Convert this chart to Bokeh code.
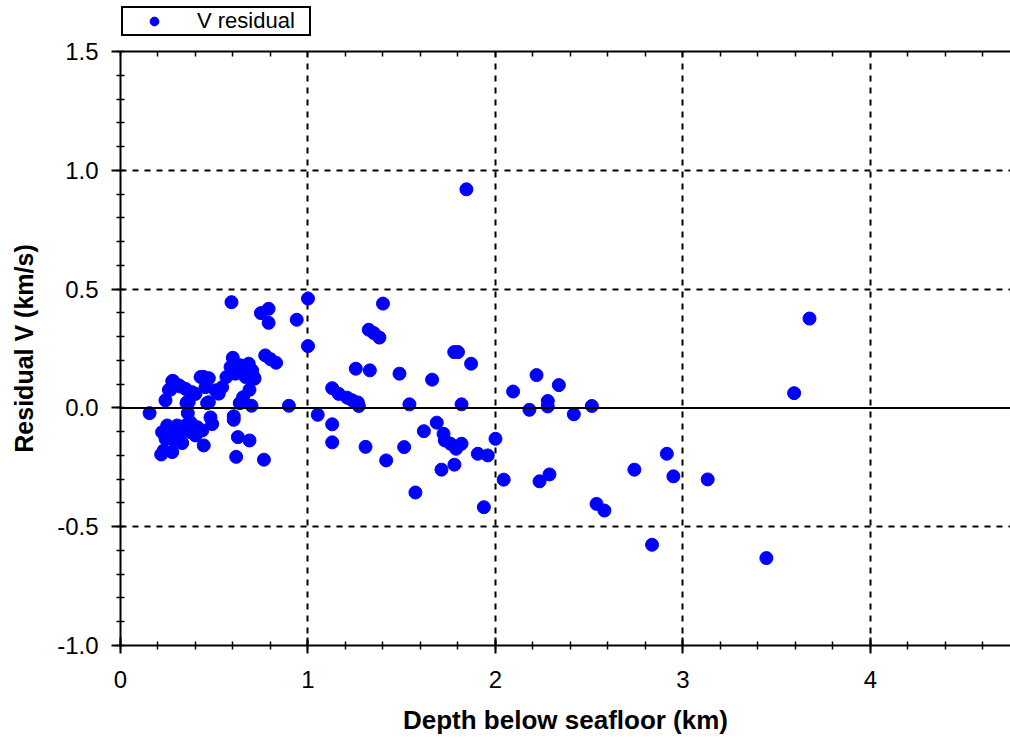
from bokeh.plotting import figure
from bokeh.layouts import column
from bokeh.models import (LinearAxis, Range1d, Span, Legend, LegendItem,
                          FixedTicker, ColumnDataSource, Grid,
                          CustomJSTickFormatter)
from bokeh.embed import file_html
from bokeh.resources import INLINE

# Depth below seafloor (km) and velocity residual (km/s) for each sample
depth_km = [
    0.155, 0.222, 0.231, 0.240, 0.240, 0.249, 0.258, 0.267, 0.276, 0.276,
    0.276, 0.281, 0.284, 0.302, 0.311, 0.320, 0.329, 0.329, 0.347, 0.347,
    0.352, 0.356, 0.359, 0.364, 0.373, 0.373, 0.382, 0.400, 0.400, 0.409,
    0.427, 0.436, 0.444, 0.444, 0.453, 0.462, 0.471, 0.471, 0.480, 0.489,
    0.507, 0.524, 0.542, 0.565, 0.587, 0.592, 0.599, 0.601, 0.604, 0.604,
    0.613, 0.617, 0.622, 0.626, 0.636, 0.640, 0.654, 0.667, 0.684, 0.688,
    0.688, 0.699, 0.702, 0.711, 0.715, 0.749, 0.765, 0.772, 0.790, 0.790,
    0.800, 0.830, 0.898, 0.940, 1.000, 1.000, 0.217,
    1.052, 1.129, 1.129, 1.129, 1.164, 1.209, 1.236, 1.255, 1.266, 1.271,
    1.307, 1.324, 1.330, 1.351, 1.381, 1.400, 1.417, 1.488, 1.513, 1.541,
    1.573, 1.618, 1.662, 1.687, 1.712, 1.723, 1.730, 1.760, 1.780, 1.781,
    1.790, 1.800, 1.819, 1.819, 1.845, 1.870, 1.906, 1.938, 1.959, 2.000,
    2.044, 2.094, 2.181, 2.219, 2.235, 2.279, 2.279, 2.288, 2.338, 2.418,
    2.514, 2.539, 2.581, 2.741, 2.835, 2.914, 2.949, 3.132, 3.445, 3.593,
    3.675,
]
residual_v = [
    -0.022, -0.102, -0.179, 0.032, -0.130, -0.074, 0.076, 0.077, 0.113, -0.095,
    -0.186, 0.113, -0.137, -0.074, 0.095, 0.090, -0.095, -0.148, 0.080, -0.074,
    0.020, 0.025, -0.022, 0.025, -0.102, -0.060, 0.066, 0.059, -0.116, -0.081,
    0.130, -0.095, 0.130, -0.158, 0.087, 0.020, 0.125, 0.024, -0.040, -0.068,
    0.074, 0.060, 0.087, 0.130, 0.172, 0.445, 0.211, 0.179, -0.035, -0.050,
    0.144, -0.206, 0.165, -0.123, 0.020, 0.179, 0.045, 0.130, 0.186, 0.076,
    -0.137, 0.009, 0.158, 0.130, 0.123, 0.399, -0.218, 0.221, 0.417, 0.358,
    0.205, 0.190, 0.009, 0.371, 0.460, 0.260, -0.196,
    -0.029, 0.083, -0.069, -0.145, 0.059, 0.043, 0.032, 0.165, 0.023, 0.008,
    -0.164, 0.329, 0.158, 0.315, 0.296, 0.439, -0.221, 0.144, -0.165, 0.015,
    -0.356, -0.098, 0.119, -0.062, -0.260, -0.109, -0.137, -0.151, 0.235, -0.239,
    -0.172, 0.235, 0.015, -0.151, 0.920, 0.186, -0.193, -0.418, -0.200, -0.130,
    -0.302, 0.069, -0.008, 0.138, -0.309, 0.029, 0.006, -0.280, 0.096, -0.027,
    0.008, -0.404, -0.432, -0.260, -0.576, -0.193, -0.288, -0.301, -0.632, 0.062,
    0.376,
]

x_ticks = [0, 1, 2, 3, 4]
y_ticks = [-1.0, -0.5, 0.0, 0.5, 1.0, 1.5]
x_minor = [i * 0.2 for i in range(0, 25)]
y_minor = [-1.0 + i * 0.1 for i in range(0, 26)]

FONT = "Liberation Sans"
BLUE = "#0000FF"
KEY_H = 37

p = figure(width=1010, height=740 - KEY_H, output_backend="svg",
           toolbar_location=None,
           x_range=Range1d(0, 4.747), y_range=Range1d(-1.0, 1.5),
           x_axis_type=None, y_axis_type=None,
           min_border_left=120, min_border_right=0, min_border_top=51 - KEY_H,
           min_border_bottom=95, outline_line_color=None,
           background_fill_color="white", border_fill_color="white")

src = ColumnDataSource(dict(x=depth_km, y=residual_v))

# Axes
xaxis = LinearAxis(axis_label="Depth below seafloor (km)")
xaxis.ticker = FixedTicker(ticks=x_ticks, minor_ticks=x_minor)
yaxis = LinearAxis(axis_label="Residual V (km/s)")
yaxis.ticker = FixedTicker(ticks=y_ticks, minor_ticks=y_minor)
yaxis.formatter = CustomJSTickFormatter(code="return tick.toFixed(1);")

for ax in (xaxis, yaxis):
    ax.axis_line_width = 2
    ax.axis_line_color = "black"
    ax.major_tick_line_width = 2
    ax.minor_tick_line_width = 1.5
    ax.major_tick_line_color = "black"
    ax.minor_tick_line_color = "black"
    ax.major_label_text_font = FONT
    ax.major_label_text_font_size = "24px"
    ax.major_label_text_color = "black"
    ax.axis_label_text_font = FONT
    ax.axis_label_text_font_style = "bold"
    ax.axis_label_text_color = "black"

xaxis.axis_label_text_font_size = "26px"
yaxis.axis_label_text_font_size = "25px"

xaxis.major_tick_in = 8
xaxis.major_tick_out = 8
xaxis.minor_tick_in = 4
xaxis.minor_tick_out = 4
xaxis.major_label_standoff = 17
xaxis.axis_label_standoff = 14

yaxis.major_tick_in = 0
yaxis.major_tick_out = 9
yaxis.minor_tick_in = 4
yaxis.minor_tick_out = 4
yaxis.major_label_standoff = 13
yaxis.axis_label_standoff = 16

p.add_layout(xaxis, "below")
p.add_layout(yaxis, "left")

# Top frame line carrying inward minor ticks only
top = LinearAxis(ticker=FixedTicker(ticks=x_ticks, minor_ticks=x_minor))
top.axis_line_width = 2
top.major_tick_in = 0
top.major_tick_out = 0
top.minor_tick_in = 5
top.minor_tick_out = 0
top.minor_tick_line_width = 1.5
top.major_label_text_font_size = "0px"
top.major_label_text_color = None
top.major_label_standoff = 0
p.add_layout(top, "above")

# Dashed grid at the major ticks
xg = Grid(dimension=0, ticker=FixedTicker(ticks=x_ticks[1:]))
yg = Grid(dimension=1, ticker=FixedTicker(ticks=[-0.5, 0.5, 1.0]))
for g in (xg, yg):
    g.grid_line_color = "black"
    g.grid_line_dash = "6 6"
    g.grid_line_width = 2
    p.add_layout(g)

p.add_layout(Span(location=0, dimension="width", line_color="black", line_width=2))

p.scatter("x", "y", source=src, size=13, fill_color=BLUE,
          line_color=BLUE, marker="circle")

# Key strip above the chart; its ranges sit away from the data so only
# the legend entry is drawn there
key = figure(width=1010, height=KEY_H, output_backend="svg",
             toolbar_location=None,
             x_range=Range1d(100, 101), y_range=Range1d(100, 101),
             x_axis_type=None, y_axis_type=None,
             min_border_left=0, min_border_right=0, min_border_top=0,
             min_border_bottom=0, outline_line_color=None,
             background_fill_color="white", border_fill_color="white")
kr = key.scatter("x", "y", source=src, size=13, fill_color=BLUE,
                 line_color=BLUE, marker="circle")
key.xgrid.visible = False
key.ygrid.visible = False

legend = Legend(items=[LegendItem(label="V residual", renderers=[kr])],
                location=(1, 1), orientation="horizontal")
legend.label_text_font = FONT
legend.label_text_font_size = "22px"
legend.label_text_color = "black"
legend.border_line_color = "black"
legend.border_line_alpha = 1.0
legend.border_line_width = 2
legend.padding = 0
legend.margin = 0
legend.glyph_width = 62
legend.glyph_height = 22
legend.label_standoff = 12
legend.label_height = 22
legend.label_width = 112
legend.background_fill_alpha = 1
key.add_layout(legend, "center")

layout = column(key, p, spacing=0)

open("out.html", "w").write(file_html(layout, INLINE))
